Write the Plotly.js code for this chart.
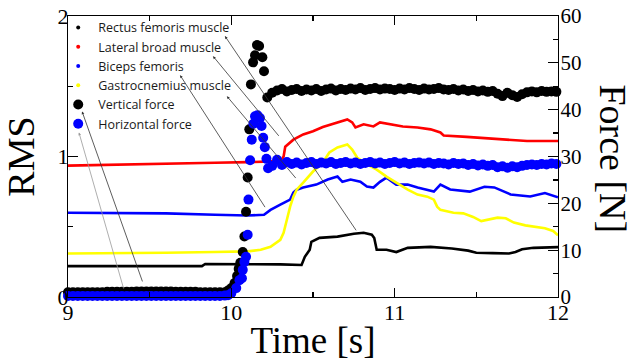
<!DOCTYPE html>
<html>
<head>
<meta charset="utf-8">
<script src="https://cdn.plot.ly/plotly-3.0.1.min.js"></script>
<style>html,body{margin:0;padding:0;background:#fff;}#chart{width:633px;height:361px;}</style>
</head>
<body>
<div id="chart"></div>
<script>
// ---- Data ----
const seriesNames = ["Rectus femoris muscle", "Lateral broad muscle", "Biceps femoris", "Gastrocnemius muscle", "Vertical force", "Horizontal force"];

// EMG RMS series (left axis)
const rectusT   = [9.0, 9.3, 9.6, 9.82, 9.84, 10.1, 10.3, 10.43, 10.45, 10.48, 10.49, 10.54, 10.65, 10.75, 10.81, 10.86, 10.875, 10.89, 10.95, 11.01, 11.08, 11.22, 11.35, 11.45, 11.5, 11.6, 11.7, 11.74, 11.78, 11.85, 11.93, 12.0];
const rectusRMS = [0.22, 0.22, 0.22, 0.22, 0.235, 0.235, 0.232, 0.228, 0.286, 0.336, 0.393, 0.421, 0.43, 0.45, 0.457, 0.443, 0.42, 0.336, 0.336, 0.32, 0.35, 0.357, 0.345, 0.33, 0.315, 0.312, 0.31, 0.32, 0.34, 0.35, 0.355, 0.355];

const lateralT   = [9.0, 9.3, 9.6, 9.9, 10.1, 10.25, 10.31, 10.32, 10.33, 10.36, 10.38, 10.44, 10.5, 10.56, 10.65, 10.71, 10.74, 10.76, 10.81, 10.87, 10.91, 10.97, 11.05, 11.14, 11.22, 11.28, 11.3, 11.44, 11.57, 11.65, 11.81, 12.0];
const lateralRMS = [0.935, 0.94, 0.945, 0.955, 0.96, 0.965, 0.98, 1.0, 1.07, 1.1, 1.12, 1.157, 1.18, 1.21, 1.243, 1.264, 1.243, 1.207, 1.229, 1.214, 1.243, 1.229, 1.214, 1.207, 1.193, 1.171, 1.15, 1.14, 1.13, 1.12, 1.11, 1.11];

const bicepsT   = [9.0, 9.3, 9.6, 9.9, 10.1, 10.2, 10.24, 10.3, 10.36, 10.38, 10.4, 10.44, 10.52, 10.59, 10.65, 10.68, 10.73, 10.79, 10.83, 10.87, 10.91, 10.95, 11.01, 11.08, 11.14, 11.24, 11.28, 11.34, 11.46, 11.55, 11.61, 11.71, 11.83, 11.92, 12.0];
const bicepsRMS = [0.6, 0.6, 0.595, 0.585, 0.58, 0.585, 0.62, 0.657, 0.693, 0.743, 0.764, 0.779, 0.8, 0.836, 0.857, 0.82, 0.836, 0.82, 0.786, 0.779, 0.82, 0.85, 0.8, 0.8, 0.779, 0.75, 0.8, 0.765, 0.75, 0.785, 0.78, 0.73, 0.715, 0.74, 0.71];

const gastroT   = [9.0, 9.3, 9.6, 9.9, 10.1, 10.18, 10.24, 10.3, 10.32, 10.34, 10.36, 10.38, 10.4, 10.44, 10.5, 10.56, 10.6, 10.65, 10.71, 10.74, 10.77, 10.83, 10.89, 10.95, 11.01, 11.08, 11.14, 11.2, 11.24, 11.26, 11.28, 11.36, 11.42, 11.48, 11.53, 11.58, 11.63, 11.68, 11.73, 11.8, 11.86, 11.92, 11.97, 12.0];
const gastroRMS = [0.31, 0.31, 0.315, 0.32, 0.325, 0.336, 0.357, 0.407, 0.457, 0.55, 0.643, 0.714, 0.764, 0.814, 0.893, 0.957, 1.029, 1.064, 1.086, 1.05, 0.993, 0.943, 0.907, 0.857, 0.814, 0.764, 0.729, 0.714, 0.693, 0.643, 0.62, 0.6, 0.595, 0.57, 0.54, 0.55, 0.565, 0.56, 0.53, 0.51, 0.5, 0.49, 0.47, 0.44];

// Force series (right axis, N)
const verticalT = [
  9.00, 9.03, 9.06, 9.09, 9.12, 9.15, 9.18, 9.21, 9.24, 9.27, 9.30, 9.33, 9.36, 9.39, 9.42, 9.45, 9.48, 9.51, 9.54, 9.57, 9.60, 9.63, 9.66, 9.69, 9.72, 9.75, 9.78, 9.81, 9.84, 9.87, 9.90, 9.93, 9.96,
  9.98, 10.0, 10.02, 10.035, 10.045, 10.055, 10.07, 10.08, 10.09, 10.1, 10.11, 10.12, 10.133, 10.145, 10.157, 10.17, 10.19, 10.2, 10.22,
  10.25, 10.28, 10.31, 10.34, 10.37, 10.40, 10.43, 10.46, 10.49, 10.52, 10.55, 10.58, 10.61, 10.64, 10.67, 10.70, 10.73, 10.76, 10.79, 10.82, 10.85, 10.88, 10.91, 10.94, 10.97,
  11.00, 11.03, 11.06, 11.09, 11.12, 11.15, 11.18, 11.21, 11.24, 11.27, 11.30, 11.33, 11.36, 11.39, 11.42, 11.45, 11.48, 11.51, 11.54, 11.57, 11.60, 11.63, 11.66, 11.69, 11.72, 11.75, 11.78, 11.81, 11.84, 11.87, 11.90, 11.93, 11.96, 11.99];
const verticalF = [
  1.0, 1.0, 1.0, 1.0, 1.0, 1.0, 1.0, 1.0, 1.1, 1.1, 1.1, 1.1, 1.1, 1.1, 1.2, 1.2, 1.2, 1.2, 1.2, 1.2, 1.2, 1.2, 1.1, 1.1, 1.1, 1.1, 1.1, 1.0, 1.0, 1.0, 1.0, 1.0, 1.0,
  1.4, 1.9, 3.0, 4.5, 6.0, 7.3, 9.6, 12.9, 18.2, 25.5, 35.8, 45.4, 50.1, 51.6, 53.8, 53.6, 51.2, 48.2, 42.6,
  43.6, 44.1, 44.4, 43.9, 44.2, 44.4, 44.0, 44.3, 44.1, 44.4, 44.0, 44.3, 44.5, 44.1, 44.4, 44.2, 44.5, 44.3, 44.6, 44.2, 44.4, 44.6, 44.3, 44.5, 44.4,
  44.2, 44.5, 44.3, 44.6, 44.4, 44.2, 44.5, 44.3, 44.4, 44.6, 44.3, 44.2, 44.4, 44.1, 44.3, 44.0, 44.2, 43.9, 44.1, 43.8, 44.0, 43.4, 42.9, 43.6, 43.1, 42.7, 43.3, 43.7, 43.9, 43.7, 44.0, 43.8, 43.9, 43.8];

const horizontalT = [
  9.00, 9.03, 9.06, 9.09, 9.12, 9.15, 9.18, 9.21, 9.24, 9.27, 9.30, 9.33, 9.36, 9.39, 9.42, 9.45, 9.48, 9.51, 9.54, 9.57, 9.60, 9.63, 9.66, 9.69, 9.72, 9.75, 9.78, 9.81, 9.84, 9.87, 9.90, 9.93, 9.96,
  9.98, 10.0, 10.03, 10.05, 10.065, 10.07, 10.08, 10.09, 10.1, 10.105, 10.115, 10.125, 10.135, 10.145, 10.16, 10.175, 10.185, 10.195, 10.205, 10.215, 10.225,
  10.25, 10.28, 10.31, 10.34, 10.37, 10.40, 10.43, 10.46, 10.49, 10.52, 10.55, 10.58, 10.61, 10.64, 10.67, 10.70, 10.73, 10.76, 10.79, 10.82, 10.85, 10.88, 10.91, 10.94, 10.97,
  11.00, 11.03, 11.06, 11.09, 11.12, 11.15, 11.18, 11.21, 11.24, 11.27, 11.30, 11.33, 11.36, 11.39, 11.42, 11.45, 11.48, 11.51, 11.54, 11.57, 11.60, 11.63, 11.66, 11.69, 11.72, 11.75, 11.78, 11.81, 11.84, 11.87, 11.90, 11.93, 11.96, 11.99];
const horizontalF = [
  0.2, 0.2, 0.2, 0.2, 0.2, 0.2, 0.2, 0.2, 0.2, 0.2, 0.2, 0.2, 0.2, 0.2, 0.2, 0.2, 0.2, 0.2, 0.2, 0.2, 0.2, 0.2, 0.2, 0.2, 0.2, 0.2, 0.2, 0.2, 0.2, 0.2, 0.2, 0.2, 0.3,
  0.4, 0.8, 1.9, 3.6, 4.0, 5.8, 7.5, 8.6, 13.3, 20.8, 29.2, 33.6, 37.0, 38.6, 38.8, 38.2, 36.5, 34.0, 32.0, 29.5, 27.5,
  28.0, 29.3, 28.2, 28.8, 28.4, 28.7, 28.3, 28.6, 28.8, 28.4, 28.7, 28.5, 28.8, 28.4, 28.6, 28.8, 28.5, 28.7, 28.4, 28.6, 28.8, 28.5, 28.7, 28.4, 28.6,
  28.8, 28.5, 28.7, 28.4, 28.6, 28.7, 28.5, 28.7, 28.4, 28.6, 28.5, 28.3, 28.6, 28.4, 28.5, 28.2, 28.4, 28.1, 28.3, 28.0, 28.2, 27.7, 27.9, 27.6, 27.9, 27.7, 28.0, 28.2, 28.3, 28.2, 28.4, 28.3, 28.5, 28.4];

// Axis ticks
const xTickVals = [9, 10, 11, 12];
const rmsTickVals = [0, 1, 2];
const forceTickVals = [0, 10, 20, 30, 40, 50, 60];

// ---- Styles ----
const emgColors = ["#000000", "#ff0000", "#0000ff", "#ffff00"];
const forceColors = ["#000000", "#0000ff"];
const serif = "Liberation Serif, Times New Roman, serif";

const emgT = [rectusT, lateralT, bicepsT, gastroT];
const emgY = [rectusRMS, lateralRMS, bicepsRMS, gastroRMS];

const traces = [];
// legend-only entries for the EMG series (small dot symbol)
for (let i = 0; i < 4; i++) {
  traces.push({
    type: "scatter", mode: "markers", x: [null], y: [null],
    name: seriesNames[i], showlegend: true, hoverinfo: "skip",
    marker: {color: emgColors[i], size: 4}
  });
}
// EMG lines
for (let i = 0; i < 4; i++) {
  traces.push({
    type: "scatter", mode: "lines", x: emgT[i], y: emgY[i],
    name: seriesNames[i], showlegend: false, yaxis: "y",
    line: {color: emgColors[i], width: 2.6}
  });
}
// Forces
traces.push({
  type: "scatter", mode: "markers", x: verticalT, y: verticalF, yaxis: "y2",
  name: seriesNames[4], cliponaxis: false,
  marker: {color: forceColors[0], size: 10}
});
traces.push({
  type: "scatter", mode: "markers", x: horizontalT, y: horizontalF, yaxis: "y2",
  name: seriesNames[5], cliponaxis: false,
  marker: {color: forceColors[1], size: 10}
});

// arrows from legend labels to the curves: [headX, headY, tailX, tailY, color]
const arrows = [
  [9.961, 1.857, 10.77, 0.464, "#333333"],
  [9.888, 1.714, 10.298, 1.136, "#333333"],
  [9.686, 1.579, 10.212, 0.629, "#333333"],
  [9.973, 1.429, 10.402, 0.836, "#333333"],
  [9.086, 1.321, 9.459, 0.1, "#333333"],
  [9.067, 1.171, 9.343, 0.05, "#999999"]
];
const annotations = arrows.map(a => ({
  x: a[0], y: a[1], xref: "x", yref: "y",
  ax: a[2], ay: a[3], axref: "x", ayref: "y",
  text: "", showarrow: true, arrowhead: 2, arrowsize: 0.7,
  arrowwidth: 0.8, arrowcolor: a[4], standoff: 0
}));
annotations.push({
  text: "Force [N]", xref: "paper", yref: "paper",
  x: 1.112, y: 0.49, xanchor: "center", yanchor: "middle",
  textangle: 90, showarrow: false,
  font: {family: serif, size: 38, color: "#000"}
});

const axisCommon = {
  showline: true, linecolor: "#000", linewidth: 1.2,
  showgrid: false, zeroline: false, ticks: "inside", tickcolor: "#000",
  tickwidth: 1.2, tickfont: {family: serif, size: 22, color: "#000"}
};

const layout = {
  width: 633, height: 361,
  margin: {l: 68, r: 75, t: 16, b: 64},
  paper_bgcolor: "#fff", plot_bgcolor: "#fff",
  showlegend: true,
  legend: {
    x: -0.02, y: 1.011, xanchor: "left", yanchor: "top",
    bgcolor: "rgba(0,0,0,0)", borderwidth: 0, tracegroupgap: 0,
    font: {family: "Open Sans, sans-serif", size: 12.5, color: "#1a1a1a"}
  },
  xaxis: Object.assign({}, axisCommon, {
    range: [9, 12], tickmode: "array", tickvals: xTickVals, ticktext: xTickVals.map(String),
    ticklen: 9, mirror: "ticks", ticklabelstandoff: -5,
    minor: {tickmode: "linear", tick0: 9, dtick: 0.5, ticks: "inside", ticklen: 5, tickcolor: "#000", showgrid: false},
    title: {text: "Time [s]", font: {family: serif, size: 37, color: "#000"}, standoff: 8}
  }),
  yaxis: Object.assign({}, axisCommon, {
    range: [0, 2], tickmode: "array", tickvals: rmsTickVals, ticktext: rmsTickVals.map(String),
    ticklen: 10, ticklabelstandoff: -6,
    minor: {tickmode: "linear", tick0: 0, dtick: 0.5, ticks: "inside", ticklen: 5, tickcolor: "#000", showgrid: false},
    title: {text: "RMS", font: {family: serif, size: 38, color: "#000"}, standoff: 12}
  }),
  yaxis2: Object.assign({}, axisCommon, {
    overlaying: "y", side: "right", anchor: "x",
    range: [0, 60], tickmode: "array", tickvals: forceTickVals, ticktext: forceTickVals.map(String),
    ticklen: 10, ticklabelstandoff: -3, tickfont: {family: serif, size: 21, color: "#000"},
    minor: {tickmode: "linear", tick0: 0, dtick: 5, ticks: "inside", ticklen: 5, tickcolor: "#000", showgrid: false}
  }),
  annotations: annotations
};

Plotly.newPlot("chart", traces, layout, {displayModeBar: false, staticPlot: true});
</script>
</body>
</html>
